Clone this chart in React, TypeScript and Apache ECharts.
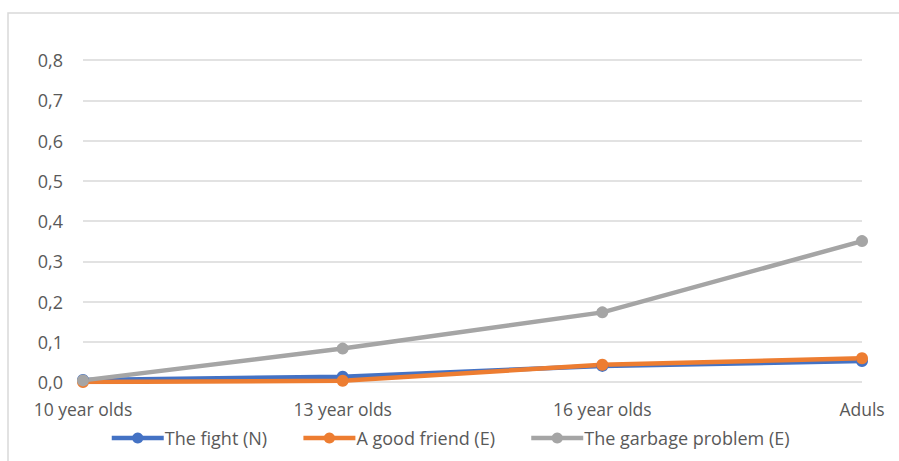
import React, { useEffect, useRef } from "react";
import * as echarts from "echarts";

const categories = ["10 year olds", "13 year olds", "16 year olds", "Aduls"];
const fightValues = [0.005, 0.013, 0.04, 0.052];
const friendValues = [0.0, 0.003, 0.043, 0.059];
const garbageValues = [0.004, 0.083, 0.173, 0.35];
const seriesNames = ["The fight (N)", "A good friend (E)", "The garbage problem (E)"];
const seriesColors = ["#4472C4", "#ED7D31", "#A5A5A5"];

export default function App() {
  const ref = useRef<HTMLDivElement>(null);
  useEffect(() => {
    if (!ref.current) return;
    const chart = echarts.init(ref.current, null, { renderer: "svg" });
    const font = "'Open Sans', 'Noto Sans', sans-serif";
    const dataSets = [fightValues, friendValues, garbageValues];
    chart.setOption({
      animation: false,
      backgroundColor: "#ffffff",
      textStyle: { fontFamily: font },
      graphic: [
        {
          type: "rect",
          shape: { x: 8, y: 13, width: 1000, height: 600 },
          style: { fill: "none", stroke: "#d9d9d9", lineWidth: 1.5 },
          silent: true,
        },
      ],
      grid: { left: 83, right: 37, top: 60, bottom: 79 },
      xAxis: {
        type: "category",
        data: categories,
        boundaryGap: false,
        axisLine: { show: false },
        axisTick: { show: false },
        axisLabel: { color: "#595959", fontSize: 17.5, fontFamily: font, margin: 18 },
      },
      yAxis: {
        type: "value",
        min: 0,
        max: 0.8,
        interval: 0.1,
        axisLine: { show: false },
        axisTick: { show: false },
        splitLine: { lineStyle: { color: "#d9d9d9", width: 1.5 } },
        axisLabel: {
          color: "#595959",
          fontSize: 18,
          fontFamily: font,
          margin: 20,
          formatter: (v: number) => v.toFixed(1).replace(".", ","),
        },
      },
      legend: {
        bottom: 9,
        left: "center",
        itemWidth: 52,
        itemHeight: 14,
        itemGap: 34,
        lineStyle: { width: 4.5 },
        textStyle: { color: "#595959", fontSize: 18, fontFamily: font, padding: [0, 0, 0, -4] },
        data: seriesNames,
      },
      series: seriesNames.map((name, i) => ({
        name,
        type: "line",
        data: dataSets[i],
        color: seriesColors[i],
        symbol: "circle",
        symbolSize: 12,
        lineStyle: { width: 4.5, color: seriesColors[i] },
        itemStyle: { color: seriesColors[i] },
      })),
    });
    return () => chart.dispose();
  }, []);
  return <div ref={ref} style={{ width: 899, height: 461, position: "absolute", left: 0, top: 0 }} />;
}
